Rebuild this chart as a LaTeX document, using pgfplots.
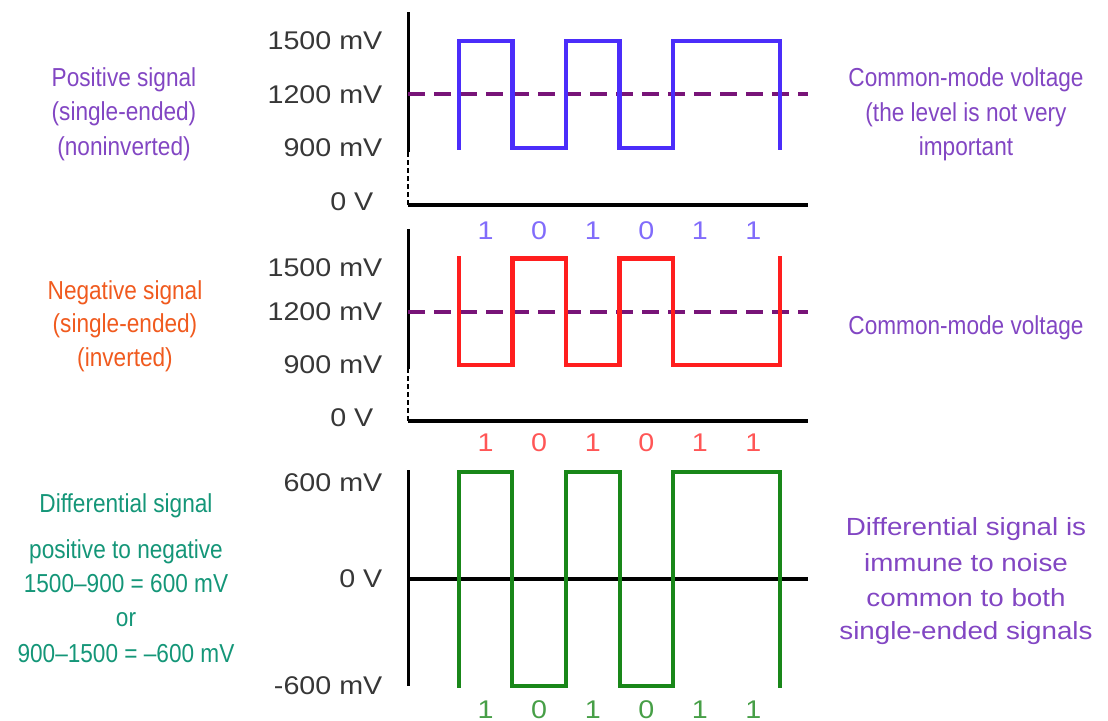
\documentclass[border=0pt]{standalone}
\usepackage{pgfplots}
\pgfplotsset{compat=1.18}
\usepackage{fontspec}
\setmainfont{Liberation Sans}
\newfontfamily\condfont[FakeStretch=0.87]{Liberation Sans}
\newfontfamily\widefont[FakeStretch=1.12]{Liberation Sans}

\definecolor{sigblue}{RGB}{75,45,250}
\definecolor{sigred}{RGB}{255,30,30}
\definecolor{siggreen}{RGB}{25,135,25}
\definecolor{cmpurple}{RGB}{120,20,120}
\definecolor{txtpurple}{RGB}{130,70,195}
\definecolor{txtorange}{RGB}{240,90,30}
\definecolor{txtteal}{RGB}{20,150,120}
\definecolor{ticktxt}{RGB}{55,55,55}

\newcommand{\sidesz}{\fontsize{13pt}{15pt}\selectfont}
\newcommand{\ticksz}{\fontsize{12.8pt}{15pt}\selectfont}

\pgfplotsset{
  wave/.style={
    scale only axis, width=200pt,
    xmin=-0.95, xmax=6.52,
    axis lines=left, axis line style={draw=none,-},
    tick style={draw=none},
    xtick={0.5,1.5,2.5,3.5,4.5,5.5},
    xticklabels={1,0,1,0,1,1},
    yticklabel style={anchor=east, inner sep=0pt, xshift=-10.5pt,
      font=\widefont\ticksz, text=ticktxt},
    clip=false,
  },
  sig/.style={line width=2.2pt, line cap=rect, line join=miter},
  cm/.style={cmpurple, line width=2pt, dash pattern=on 8.5pt off 4.5pt},
}

\begin{document}
\begin{tikzpicture}
\path[use as bounding box] (0,0) rectangle (554pt,360.5pt);

% positive signal
\begin{axis}[wave, at={(204pt,258pt)}, anchor=south west, height=96.5pt,
  ymin=580, ymax=1663,
  ytick={600,900,1200,1500},
  yticklabels={0 V\hspace*{4.5pt},900 mV,1200 mV,1500 mV},
  xticklabel style={anchor=base, inner sep=0pt, yshift=-15pt,
    font=\widefont\ticksz, text=sigblue!70!white}]
\draw[line width=1.5pt] (axis cs:-0.95,878) -- (axis cs:-0.95,1663);
\draw[line width=1.2pt, dash pattern=on 2.5pt off 1.5pt] (axis cs:-0.95,580) -- (axis cs:-0.95,878);
\draw[line width=2pt] (axis cs:-0.95,580) -- (axis cs:6.52,580);
\addplot[cm] coordinates {(-0.95,1200) (6.52,1200)};
\addplot[sig, sigblue] coordinates {
  (0,900) (0,1500) (1,1500) (1,900) (2,900) (2,1500)
  (3,1500) (3,900) (4,900) (4,1500) (6,1500) (6,900)};
\end{axis}

% negative signal
\begin{axis}[wave, at={(204pt,150pt)}, anchor=south west, height=96pt,
  ymin=583, ymax=1666,
  ytick={600,900,1200},
  yticklabels={0 V\hspace*{4.5pt},900 mV,1200 mV},
  extra y ticks={1500}, extra y tick labels={1500 mV},
  extra y tick style={yticklabel style={yshift=-4.5pt}},
  xticklabel style={anchor=base, inner sep=0pt, yshift=-13pt,
    font=\widefont\ticksz, text=sigred!75!white}]
\draw[line width=1.5pt] (axis cs:-0.95,878) -- (axis cs:-0.95,1666);
\draw[line width=1.2pt, dash pattern=on 2.5pt off 1.5pt] (axis cs:-0.95,583) -- (axis cs:-0.95,878);
\draw[line width=2pt] (axis cs:-0.95,583) -- (axis cs:6.52,583);
\addplot[cm] coordinates {(-0.95,1200) (6.52,1200)};
\addplot[sig, sigred] coordinates {
  (0,1500) (0,900) (1,900) (1,1500) (2,1500) (2,900)
  (3,900) (3,1500) (4,1500) (4,900) (6,900) (6,1500)};
\end{axis}

% differential signal
\begin{axis}[wave, at={(204pt,17.5pt)}, anchor=south west, height=108pt,
  ymin=-600, ymax=610,
  ytick={-600,0},
  yticklabels={-600 mV,0 V},
  extra y ticks={600}, extra y tick labels={600 mV},
  extra y tick style={yticklabel style={yshift=-5.5pt}},
  xticklabel style={anchor=base, inner sep=0pt, yshift=-14pt,
    font=\widefont\ticksz, text=siggreen!80!white}]
\draw[line width=1.5pt] (axis cs:-0.95,-600) -- (axis cs:-0.95,610);
\draw[line width=1.7pt] (axis cs:-0.95,0) -- (axis cs:6.52,0);
\addplot[sig, siggreen, line width=2pt] coordinates {
  (0,-600) (0,600) (1,600) (1,-600) (2,-600) (2,600)
  (3,600) (3,-600) (4,-600) (4,600) (6,600) (6,-600)};
\end{axis}

% left captions
\begin{scope}[every node/.style={anchor=base, inner sep=0pt, font=\condfont\sidesz}]
\node[text=txtpurple] at (62pt,317pt) {Positive signal};
\node[text=txtpurple] at (62pt,300pt) {(single-ended)};
\node[text=txtpurple] at (62pt,282.5pt) {(noninverted)};
\node[text=txtorange] at (62.5pt,210.5pt) {Negative signal};
\node[text=txtorange] at (62.5pt,194pt) {(single-ended)};
\node[text=txtorange] at (62.5pt,177pt) {(inverted)};
\node[text=txtteal] at (63pt,104pt) {Differential signal};
\node[text=txtteal] at (63pt,81pt) {positive to negative};
\node[text=txtteal] at (63pt,64pt) {1500–900 = 600 mV};
\node[text=txtteal] at (63pt,47pt) {or};
\node[text=txtteal] at (63pt,29pt) {900–1500 = –600 mV};
% right captions
\node[text=txtpurple] at (483pt,317pt) {Common-mode voltage};
\node[text=txtpurple] at (483pt,299.5pt) {(the level is not very};
\node[text=txtpurple] at (483pt,282.5pt) {important};
\node[text=txtpurple] at (483pt,193pt) {Common-mode voltage};
\end{scope}
\begin{scope}[every node/.style={anchor=base, inner sep=0pt, text=txtpurple,
    font=\widefont\fontsize{12.4pt}{15pt}\selectfont}]
\node at (483pt,92.5pt) {Differential signal is};
\node at (483pt,74.5pt) {immune to noise};
\node at (483pt,57pt) {common to both};
\node at (483pt,40.5pt) {single-ended signals};
\end{scope}
\end{tikzpicture}
\end{document}
